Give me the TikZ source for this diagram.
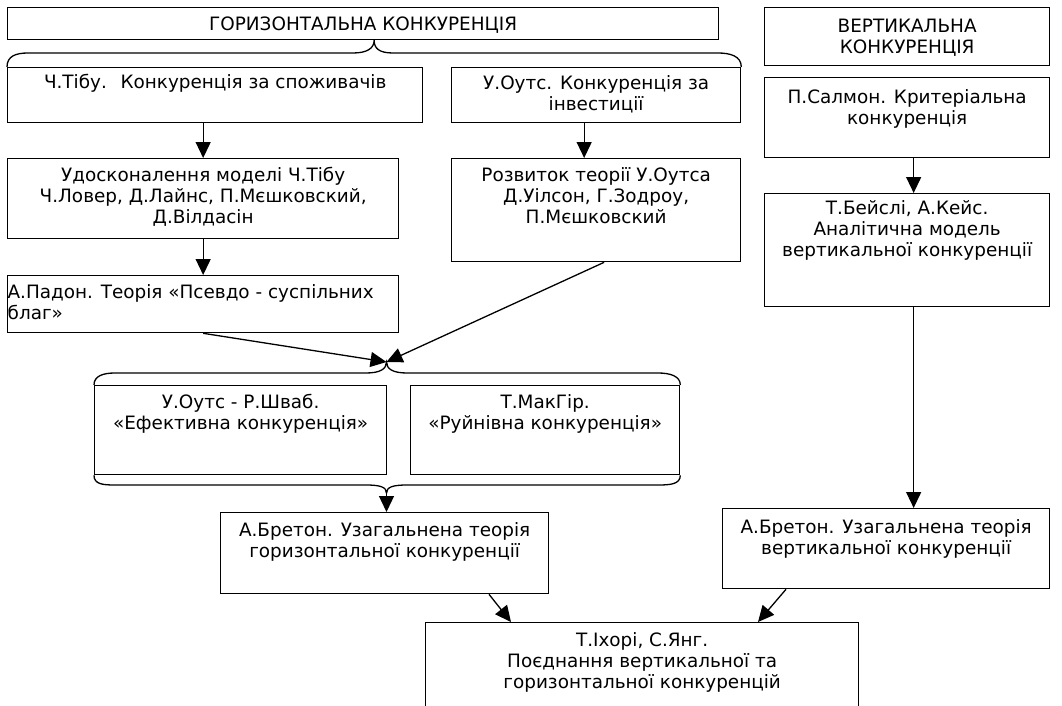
\documentclass[tikz,border=0pt]{standalone}
\usepackage{fontspec}
\setmainfont{DejaVu Sans}
\usetikzlibrary{arrows.meta,calc}

% box text: [first baseline]{width}{height}{text}
\newcommand\boxtext[4][22]{\parbox[t][#3pt][t]{#2pt}{\centering\rule{0pt}{#1pt}#4}}

\tikzset{
  box/.style={draw, line width=1.3pt, anchor=north west, inner sep=0pt,
    font=\fontsize{18.4}{21}\selectfont},
  arr/.style={line width=1.3pt, -{Triangle[length=16pt,width=15pt]}},
  brace/.style={line width=1.3pt}
}

\begin{document}
\begin{tikzpicture}[x=1pt,y=-1pt]
\clip (0,0) rectangle (1062,706);
\fill[white] (0,0) rectangle (1062,706);

% horizontal competition
\node[box] (horiz) at (7,7) {\boxtext[23]{711}{32}{ГОРИЗОНТАЛЬНА КОНКУРЕНЦІЯ}};
\node[box] (tibu) at (7,67) {\boxtext[21]{415}{55}{Ч.Тібу.~ Конкуренція за споживачів}};
\node[box] (outs) at (451,67) {\boxtext[22]{289}{55}{У.Оутс. Конкуренція за\\інвестиції}};
\node[box] (udosk) at (7,158) {\boxtext[23]{391}{80}{Удосконалення моделі Ч.Тібу\\Ч.Ловер, Д.Лайнс, П.Мєшковский,\\Д.Вілдасін}};
\node[box] (rozv) at (451,158) {\boxtext[23]{289}{103}{Розвиток теорії У.Оутса\\Д.Уілсон, Г.Зодроу,\\П.Мєшковский}};
\node[box] (padon) at (7,275) {\boxtext[23]{391}{57}{\raggedright А.Падон. Теорія «Псевдо - суспільних\\благ»}};
\node[box] (efekt) at (94,385) {\boxtext[23]{292}{89}{У.Оутс - Р.Шваб.\\«Ефективна конкуренція»}};
\node[box] (ruin) at (410,385) {\boxtext[23]{269}{89}{Т.МакГір.\\«Руйнівна конкуренція»}};
\node[box] (bretonh) at (220,512) {\boxtext[24]{328}{81}{А.Бретон. Узагальнена теорія\\горизонтальної конкуренції}};

% vertical competition
\node[box] (vert) at (764,7) {\boxtext[25]{285}{58}{ВЕРТИКАЛЬНА\\КОНКУРЕНЦІЯ}};
\node[box] (salmon) at (764,77) {\boxtext[26]{285}{80}{П.Салмон. Критеріальна\\конкуренція}};
\node[box] (beisli) at (764,193) {\boxtext[21]{285}{113}{Т.Бейслі, А.Кейс.\\Аналітична модель\\вертикальної конкуренції}};
\node[box] (bretonv) at (722,508) {\boxtext[25]{327}{80}{А.Бретон. Узагальнена теорія\\вертикальної конкуренції}};

% both
\node[box] (final) at (425,622) {\boxtext[24]{433}{120}{Т.Іхорі, С.Янг.\\Поєднання вертикальної та\\горизонтальної конкуренцій}};

% braces
\coordinate (tmid) at ($(tibu.north west)!0.5!(outs.north east)$);
\coordinate (topcusp) at (tmid |- horiz.south);
\draw[brace] (tibu.north west) .. controls +(0,-11) and +(-12,0) .. (28,53) -- (353,53)
  .. controls +(14,0) and +(0,8) .. (topcusp)
  .. controls +(0,8) and +(-14,0) .. (393,53) -- (718,53)
  .. controls +(12,0) and +(0,-11) .. (outs.north east);

\coordinate (midcusp) at (386.5,362);
\draw[brace] (efekt.north west) .. controls +(0,-9) and +(-12,0) .. (115,373) -- (366,373)
  .. controls +(14,0) and +(0,7) .. (midcusp)
  .. controls +(0,7) and +(-14,0) .. (407,373) -- (658,373)
  .. controls +(12,0) and +(0,-9) .. (ruin.north east);

\coordinate (lowcusp) at (386.5,493);
\draw[brace] (efekt.south west) .. controls +(0,9) and +(-12,0) .. (115,485) -- (366,485)
  .. controls +(14,0) and +(0,-6) .. (lowcusp)
  .. controls +(0,-6) and +(-14,0) .. (407,485) -- (658,485)
  .. controls +(12,0) and +(0,9) .. (ruin.south east);

% arrows
\draw[arr] (tibu.south -| udosk.north) -- (udosk.north);
\draw[arr] (udosk.south) -- (padon.north);
\draw[arr] ([xshift=-12pt]outs.south) -- ([xshift=-12pt]rozv.north);
\draw[arr] (padon.south) -- (midcusp);
\draw[arr] ([xshift=8pt]rozv.south) -- (midcusp);
\draw[arr] (lowcusp) -- (lowcusp |- bretonh.north);
\draw[arr] ([xshift=6.5pt]salmon.south) -- ([xshift=6.5pt]beisli.north);
\draw[arr] ([xshift=6.5pt]beisli.south) -- ([xshift=6.5pt]beisli.south |- bretonv.north);
\draw[arr] ($(bretonh.south west)+(269,0)$) -- ($(final.north west)+(86,0)$);
\draw[arr] ($(bretonv.south west)+(64,0)$) -- ($(final.north west)+(333,0)$);

\end{tikzpicture}
\end{document}
